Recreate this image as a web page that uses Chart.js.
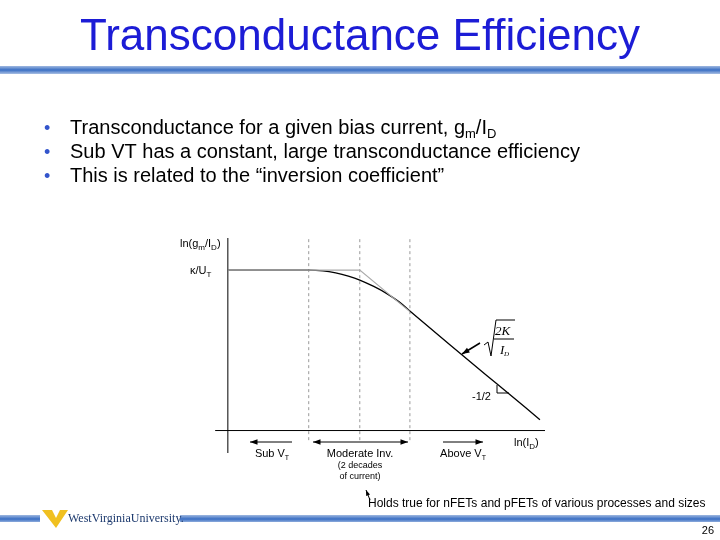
<!DOCTYPE html>
<html><head><meta charset="utf-8">
<script src="https://cdn.jsdelivr.net/npm/chart.js@4"></script>
<style>body{margin:0;background:#fff}canvas{display:block}</style>
</head><body>
<canvas id="c" width="720" height="540"></canvas>
<script>
// ln(gm/ID) against ln(ID), arbitrary units
var curveX = [0, 2.55, 3.0, 3.4, 3.8, 4.16, 4.6, 5.0, 5.4, 5.74, 7.0, 8.5, 9.84];
var curveY = [10, 10, 9.95, 9.82, 9.62, 9.38, 8.98, 8.55, 8.02, 7.45, 5.35, 2.88, 0.68];
var asymX = [0, 4.16, 5.74];
var asymY = [10, 10, 7.41];
var regionX = [2.55, 4.16, 5.74];

function pts(xs, ys) { return xs.map(function (x, i) { return {x: x, y: ys[i]}; }); }
var dashed = [];
regionX.forEach(function (x) {
    dashed.push({x: x, y: -0.6}, {x: x, y: 12}, {x: NaN, y: NaN});
});

var F = '"Liberation Sans", Arial';
// draws a run of [text, size, drop] pieces left to right
function runs(c, x, y, parts) {
    parts.forEach(function (p) {
        c.font = p[1] + 'px ' + F;
        c.fillText(p[0], x, y + (p[2] || 0));
        x += c.measureText(p[0]).width;
    });
    return x;
}
function runsCentered(c, cx, y, parts) {
    var w = 0;
    parts.forEach(function (p) { c.font = p[1] + 'px ' + F; w += c.measureText(p[0]).width; });
    runs(c, cx - w / 2, y, parts);
}

var slide = {
    id: 'slide',
    afterDraw: function (chart) {
        var c = chart.ctx;
        c.save();
        c.fillStyle = '#1c1cd6';
        c.font = '44px ' + F;
        c.textAlign = 'center';
        c.fillText('Transconductance Efficiency', 360, 50);
        var g = c.createLinearGradient(0, 66, 0, 74);
        g.addColorStop(0, '#9fb8e0'); g.addColorStop(0.5, '#3a6fc4'); g.addColorStop(1, '#a9bfe3');
        c.fillStyle = g; c.fillRect(0, 66, 720, 8);
        c.textAlign = 'left';
        // bullets
        var lines = [
            [['Transconductance for a given bias current, g', 20], ['m', 13, 4], ['/I', 20], ['D', 13, 4]],
            [['Sub VT has a constant, large transconductance efficiency', 20]],
            [['This is related to the \u201cinversion coefficient\u201d', 20]]
        ];
        lines.forEach(function (l, i) {
            var y = 134 + i * 24;
            c.fillStyle = '#3355cc'; c.font = '18px ' + F; c.fillText('\u2022', 44, y);
            c.fillStyle = '#000'; runs(c, 70, y, l);
        });
        // axis labels
        runs(c, 180, 247, [['ln(g', 11], ['m', 8, 3], ['/I', 11], ['D', 8, 3], [')', 11]]);
        runs(c, 190, 274, [['\u03ba/U', 11], ['T', 8, 3]]);
        runs(c, 514, 446, [['ln(I', 11], ['D', 8, 3], [')', 11]]);
        c.font = '11px ' + F; c.fillText('-1/2', 472, 400);
        // slope mark
        c.strokeStyle = '#000'; c.lineWidth = 1;
        c.beginPath(); c.moveTo(497, 385); c.lineTo(497, 393); c.lineTo(509, 393); c.stroke();
        // sqrt(2K/ID)
        c.beginPath(); c.moveTo(484, 345); c.lineTo(488, 342); c.lineTo(491, 356); c.lineTo(496, 320); c.lineTo(515, 320); c.stroke();
        c.font = 'italic 13px "Liberation Serif", serif';
        c.fillText('2K', 495, 335);
        c.beginPath(); c.moveTo(494, 339); c.lineTo(514, 339); c.stroke();
        c.fillText('I', 500, 354); c.font = 'italic 7px "Liberation Serif", serif'; c.fillText('D', 504, 356);
        function head(x, y, a, h) {
            c.beginPath(); c.moveTo(x, y);
            c.lineTo(x - h * Math.cos(a - 0.35), y - h * Math.sin(a - 0.35));
            c.lineTo(x - h * Math.cos(a + 0.35), y - h * Math.sin(a + 0.35));
            c.closePath(); c.fillStyle = '#000'; c.fill();
        }
        function arrow(x1, y1, x2, y2, h, both) {
            c.beginPath(); c.moveTo(x1, y1); c.lineTo(x2, y2); c.stroke();
            var a = Math.atan2(y2 - y1, x2 - x1);
            head(x2, y2, a, h);
            if (both) head(x1, y1, a + Math.PI, h);
        }
        c.lineWidth = 1.5;
        arrow(480, 343, 462, 354, 8);
        c.lineWidth = 1;
        arrow(292, 442, 250, 442, 8);
        arrow(313, 442, 408, 442, 8, true);
        arrow(443, 442, 483, 442, 8);
        c.fillStyle = '#000'; c.textAlign = 'left';
        runsCentered(c, 272, 457, [['Sub V', 11], ['T', 7, 3]]);
        runsCentered(c, 360, 457, [['Moderate Inv.', 11]]);
        runsCentered(c, 463, 457, [['Above V', 11], ['T', 7, 3]]);
        runsCentered(c, 360, 468, [['(2 decades', 9]]);
        runsCentered(c, 360, 479, [['of current)', 9]]);
        arrow(370, 500, 366, 490, 6);
        c.font = '12px ' + F;
        c.fillText('Holds true for nFETs and pFETs of various processes and sizes', 368, 507);
        // footer
        var g2 = c.createLinearGradient(0, 515, 0, 523);
        g2.addColorStop(0, '#9fb8e0'); g2.addColorStop(0.5, '#3a6fc4'); g2.addColorStop(1, '#a9bfe3');
        c.fillStyle = g2; c.fillRect(0, 515, 720, 7);
        c.fillStyle = '#fff'; c.fillRect(40, 508, 140, 22);
        c.fillStyle = '#f0c020';
        c.beginPath(); c.moveTo(42, 510); c.lineTo(52, 510); c.lineTo(56, 518); c.lineTo(60, 510); c.lineTo(68, 510); c.lineTo(56, 528); c.closePath(); c.fill();
        c.fillStyle = '#1d3a6e'; c.font = '12px "Liberation Serif", serif';
        c.fillText('WestVirginiaUniversity.', 68, 522);
        c.fillStyle = '#000'; c.font = '11px ' + F; c.textAlign = 'right';
        c.fillText('26', 714, 534);
        c.restore();
    }
};

new Chart(document.getElementById('c'), {
    type: 'scatter',
    data: {
        datasets: [
            {data: pts(asymX, asymY), showLine: true, borderColor: '#aaaaaa', borderWidth: 1.2, pointRadius: 0},
            {data: pts(curveX, curveY), showLine: true, borderColor: '#000', borderWidth: 1.3, pointRadius: 0, cubicInterpolationMode: 'monotone'},
            {data: dashed, showLine: true, spanGaps: false, borderColor: '#999', borderWidth: 1, borderDash: [3, 3], pointRadius: 0},
            {data: [{x: 0, y: -1.4}, {x: 0, y: 12.2}], showLine: true, borderColor: '#000', borderWidth: 1, pointRadius: 0},
            {data: [{x: -0.4, y: 0}, {x: 10.3, y: 0}], showLine: true, borderColor: '#000', borderWidth: 1, pointRadius: 0}
        ]
    },
    options: {
        responsive: false, animation: false,
        layout: {padding: {left: 212, right: 175, top: 238, bottom: 87}},
        plugins: {legend: {display: false}, tooltip: {enabled: false}},
        scales: {
            x: {type: 'linear', min: -0.5, max: 10, display: false},
            y: {type: 'linear', min: -1.4, max: 12, display: false}
        }
    },
    plugins: [slide]
});
</script>
</body></html>
